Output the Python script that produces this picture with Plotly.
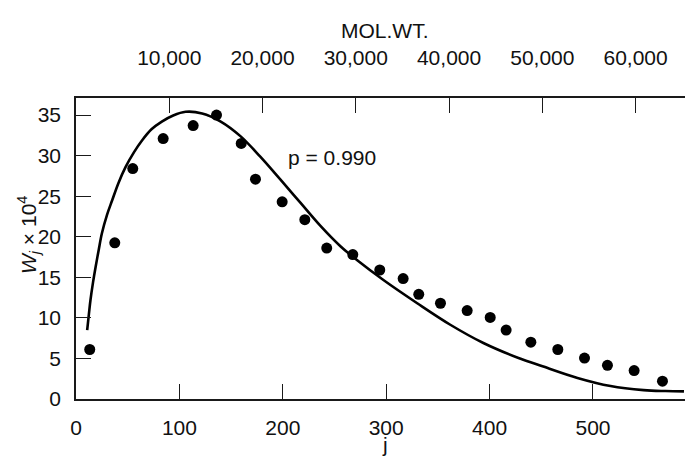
import plotly.graph_objects as go

# Experimental points (j, W_j x 10^4)
pts_j = [13.3, 37.5, 54.9, 84.3, 113.3, 135.9, 159.8, 173.6, 199.4, 221.3, 242.5,
         267.7, 293.8, 316.4, 331.5, 352.5, 378.3, 400.6, 416.0, 439.9, 466.0,
         491.8, 514.0, 539.8, 567.2]
pts_w = [6.1, 19.25, 28.4, 32.1, 33.7, 35.0, 31.5, 27.1, 24.3, 22.1, 18.6,
         17.8, 15.9, 14.85, 12.9, 11.8, 10.9, 10.05, 8.5, 7.0, 6.1,
         5.05, 4.15, 3.5, 2.2]

# Theoretical curve p = 0.990
cur_j = [10.8, 12.5, 14, 16.5, 19, 22, 25, 30, 35, 41, 48, 56, 64, 73, 83, 94,
         106, 122, 140, 159, 178, 198, 217, 236, 256, 272, 298, 330, 362, 394,
         428, 452, 485, 517, 549, 570, 588]
cur_w = [8.5, 10.5, 12.2, 14.4, 16.3, 18.4, 20.4, 22.7, 24.5, 26.6, 28.6, 30.4,
         31.9, 33.25, 34.2, 34.95, 35.4, 35.2, 34.2, 32.4, 29.9, 27.0, 24.2, 21.4,
         18.8, 17.1, 14.6, 11.8, 9.15, 6.9, 5.05, 4.0, 2.6, 1.6, 1.1, 0.98, 0.94]

x_ticks = [0, 100, 200, 300, 400, 500]
y_ticks = [0, 5, 10, 15, 20, 25, 30, 35]
mw_ticks = [10000, 20000, 30000, 40000, 50000, 60000]
mw_labels = ["10,000", "20,000", "30,000", "40,000", "50,000", "60,000"]

FONT = "Liberation Sans, Arial, sans-serif"
FS = 21
AX = "#1a1a1a"
W, H = 685, 466
ML, MR, MT, MB = 76, 0, 98, 67

fig = go.Figure()
fig.add_trace(go.Scatter(x=cur_j, y=cur_w, mode="lines",
                         line=dict(color="black", width=2.6, shape="spline", smoothing=1.0),
                         showlegend=False, hoverinfo="skip"))
fig.add_trace(go.Scatter(x=pts_j, y=pts_w, mode="markers",
                         marker=dict(color="black", size=11),
                         showlegend=False))
# invisible trace to activate the top (molecular weight) axis
fig.add_trace(go.Scatter(x=[0], y=[0], xaxis="x2", mode="markers",
                         marker=dict(opacity=0), showlegend=False, hoverinfo="skip"))

axis_common = dict(ticks="inside", ticklen=15, tickcolor=AX, tickwidth=1.4,
                   showline=True, linecolor=AX, linewidth=1.5, showgrid=False,
                   zeroline=False, automargin=False,
                   tickfont=dict(size=FS, family=FONT, color="#111"))

fig.update_layout(
    width=W, height=H,
    margin=dict(l=ML, r=MR, t=MT, b=MB, autoexpand=False),
    paper_bgcolor="white", plot_bgcolor="white",
    font=dict(family=FONT, size=FS, color="#111"),
    xaxis=dict(range=[0, 589], tickmode="array", tickvals=x_ticks,
               ticklabelstandoff=9, **axis_common),
    xaxis2=dict(range=[0, 65300], overlaying="x", side="top", tickmode="array",
                tickvals=mw_ticks, ticktext=mw_labels, ticklabelstandoff=23,
                **axis_common),
    yaxis=dict(range=[0, 37.1], tickmode="array", tickvals=y_ticks,
               ticklabelstandoff=9, **axis_common),
    annotations=[
        dict(text="p = 0.990", x=203, y=29.8, xref="x", yref="y", xanchor="left",
             yanchor="middle", showarrow=False, font=dict(size=FS)),
        dict(text="<i>W</i><sub><i>j</i></sub> × 10<sup>4</sup>", textangle=-90,
             x=-0.077, y=0.545, xref="paper", yref="paper", xanchor="center",
             yanchor="middle", showarrow=False, font=dict(size=FS)),
        dict(text="j", x=0.508, y=-0.15, xref="paper", yref="paper", xanchor="center",
             yanchor="middle", showarrow=False, font=dict(size=FS)),
        dict(text="MOL.WT.", x=0.508, y=1.225, xref="paper", yref="paper",
             xanchor="center", yanchor="middle", showarrow=False, font=dict(size=FS)),
    ],
)

fig.write_html("out.html", config={"displayModeBar": False},
               post_script="document.body.style.margin='0';document.body.style.padding='0';")
